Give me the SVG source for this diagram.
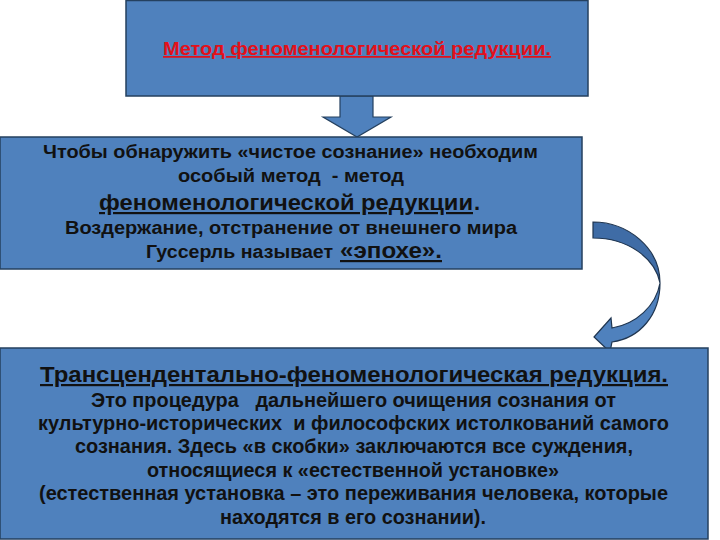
<svg xmlns="http://www.w3.org/2000/svg" width="720" height="540" viewBox="0 0 720 540">
<style>
.box{fill:#4f81bd;stroke:#24405f;stroke-width:1.5}
.t{font-family:"Liberation Sans",Arial,sans-serif;font-weight:bold;fill:#111111}
.u{text-decoration:underline}
.red{fill:#e3101a}
</style>
<rect width="720" height="540" fill="#ffffff"/>
<g id="connectors">
<path d="M340,96 L373,96 L373,117 L391,117 L357,137 L323,117 L340,117 Z" fill="#4f81bd" stroke="#24405f" stroke-width="1.2"/>
<path d="M593,222 C628,222 660,248 660,283 C655,258 628,238 593,238 Z" fill="#3f6ca6" stroke="#1f3550" stroke-width="1.2"/>
<path d="M660,283 C660,315 640,338 612,342 L610,352 L594,337 L611,318 L612,328 C636,324 656,306 660,283 Z" fill="#4f81bd" stroke="#1f3550" stroke-width="1.2"/>
</g>
<g id="node1">
<rect class="box" x="126" y="0.5" width="462" height="95.5"/>
<text class="t red u" x="163" y="55" font-size="17.5" textLength="388" lengthAdjust="spacingAndGlyphs">Метод феноменологической редукции.</text>
</g>
<g id="node2">
<rect class="box" x="0" y="137" width="582" height="132"/>
<text class="t" x="43" y="158" font-size="18" textLength="495" lengthAdjust="spacingAndGlyphs">Чтобы обнаружить «чистое сознание» необходим</text>
<text class="t" x="178" y="182" font-size="18" textLength="226" lengthAdjust="spacingAndGlyphs" xml:space="preserve">особый метод  - метод</text>
<text class="t u" x="99" y="210" font-size="22" textLength="374" lengthAdjust="spacingAndGlyphs">феноменологической редукции</text>
<text class="t" x="474" y="210" font-size="22">.</text>
<text class="t" x="65" y="234" font-size="18" textLength="452" lengthAdjust="spacingAndGlyphs">Воздержание, отстранение от внешнего мира</text>
<text class="t" x="146" y="258" font-size="18" textLength="187" lengthAdjust="spacingAndGlyphs">Гуссерль называет</text>
<text class="t u" x="340" y="258" font-size="22" textLength="102" lengthAdjust="spacingAndGlyphs">«эпохе».</text>
</g>
<g id="node3">
<rect class="box" x="0" y="348" width="708" height="191"/>
<text class="t u" x="40" y="382" font-size="22" textLength="628" lengthAdjust="spacingAndGlyphs">Трансцендентально-феноменологическая редукция.</text>
<text class="t" x="91" y="407" font-size="19.5" textLength="525" lengthAdjust="spacingAndGlyphs" xml:space="preserve">Это процедура   дальнейшего очищения сознания от</text>
<text class="t" x="38" y="430" font-size="19.5" textLength="631" lengthAdjust="spacingAndGlyphs" xml:space="preserve">культурно-исторических  и философских истолкований самого</text>
<text class="t" x="75" y="453" font-size="19.5" textLength="558" lengthAdjust="spacingAndGlyphs">сознания. Здесь «в скобки» заключаются все суждения,</text>
<text class="t" x="147" y="477" font-size="19.5" textLength="412" lengthAdjust="spacingAndGlyphs">относящиеся к «естественной установке»</text>
<text class="t" x="39" y="500" font-size="19.5" textLength="629" lengthAdjust="spacingAndGlyphs">(естественная установка – это переживания человека, которые</text>
<text class="t" x="220" y="524" font-size="19.5" textLength="266" lengthAdjust="spacingAndGlyphs">находятся в его сознании).</text>
</g>
</svg>
